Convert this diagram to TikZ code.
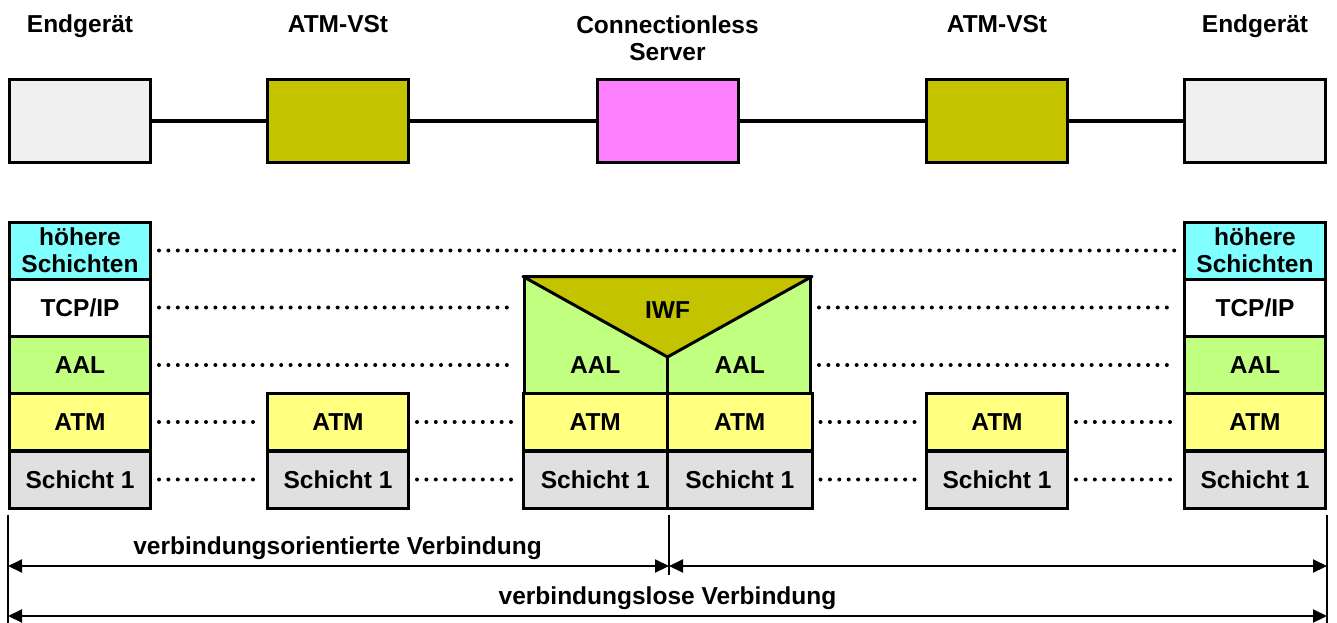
\documentclass[tikz,border=0pt]{standalone}
\usepackage{fontspec}
\setmainfont{Liberation Sans}
\usetikzlibrary{arrows.meta}

\definecolor{termcolor}{RGB}{240,240,240}
\definecolor{switchcolor}{RGB}{195,195,0}
\definecolor{servercolor}{RGB}{255,128,255}
\definecolor{highcolor}{RGB}{128,255,255}
\definecolor{aalcolor}{RGB}{192,255,128}
\definecolor{atmcolor}{RGB}{255,255,128}
\definecolor{phycolor}{RGB}{224,224,224}

\tikzset{
  unit/.style={draw=black, line width=3pt, minimum width=141pt, minimum height=83pt, inner sep=0pt},
  layer/.style={draw=black, line width=3pt, minimum width=141pt, minimum height=57pt, inner sep=0pt, align=center},
  peer/.style={line width=4pt, line cap=round, dash pattern=on 0pt off 9.4pt, shorten <=7pt, shorten >=7pt},
  span/.style={line width=2pt, {Triangle[length=14pt,width=13pt]}-{Triangle[length=14pt,width=13pt]}},
}

\begin{document}
\begin{tikzpicture}[x=1pt, y=-1pt, font=\fontsize{24.5}{27}\selectfont\bfseries]
    \useasboundingbox (0,0) rectangle (1337,623);
    % Devices
    \node[anchor=base] (tDevL) at (80,33) {Endgerät};
    \node[anchor=base] (tSwL) at (338,33) {ATM-VSt};
    \node[align=center] (tCls) at (667.5,38) {Connectionless\\Server};
    \node[anchor=base] (tSwR) at (997,33) {ATM-VSt};
    \node[anchor=base] (tDevR) at (1255,33) {Endgerät};
    \node[unit, fill=termcolor] (devL) at (80,121) {};
    \node[unit, fill=switchcolor] (swL) at (338,121) {};
    \node[unit, fill=servercolor] (cls) at (667.5,121) {};
    \node[unit, fill=switchcolor] (swR) at (997,121) {};
    \node[unit, fill=termcolor] (devR) at (1255,121) {};
    \foreach \a/\b in {devL/swL, swL/cls, cls/swR, swR/devR}
      \draw[line width=3pt] (\a) -- (\b);
    % Left terminal stack
    \node[layer, fill=highcolor] (hoeL) at (80,250.5) {höhere\\Schichten};
    \node[layer, fill=white] (tcpL) at (80,307.5) {TCP/IP};
    \node[layer, fill=aalcolor] (aalL) at (80,365) {AAL};
    \node[layer, fill=atmcolor] (atmL) at (80,422) {ATM};
    \node[layer, fill=phycolor] (phyL) at (80,479.5) {Schicht 1};
    % Switch stacks
    \node[layer, fill=atmcolor] (atmS1) at (338,422) {ATM};
    \node[layer, fill=phycolor] (phyS1) at (338,479.5) {Schicht 1};
    \node[layer, fill=atmcolor] (atmS2) at (997,422) {ATM};
    \node[layer, fill=phycolor] (phyS2) at (997,479.5) {Schicht 1};
    % Server stack with IWF
    \node[draw=black, line width=3pt, fill=aalcolor, minimum width=286pt, minimum height=115pt, inner sep=0pt] (iwf) at (667.5,335.5) {};
    \coordinate (apex) at (667.5,357);
    \filldraw[fill=switchcolor, line width=3pt, line join=round] (iwf.north west) -- (apex) -- (iwf.north east) -- cycle;
    \draw[line width=3pt] (apex) -- (iwf.south);
    \node (iwfText) at (667.5,310) {IWF};
    \node (aalC1) at (595.25,365) {AAL};
    \node (aalC2) at (739.75,365) {AAL};
    \node[layer, fill=atmcolor, minimum width=144.5pt] (atmC1) at (595.25,422) {ATM};
    \node[layer, fill=atmcolor, minimum width=144.5pt] (atmC2) at (739.75,422) {ATM};
    \node[layer, fill=phycolor, minimum width=144.5pt] (phyC1) at (595.25,479.5) {Schicht 1};
    \node[layer, fill=phycolor, minimum width=144.5pt] (phyC2) at (739.75,479.5) {Schicht 1};
    % Right terminal stack
    \node[layer, fill=highcolor] (hoeR) at (1255,250.5) {höhere\\Schichten};
    \node[layer, fill=white] (tcpR) at (1255,307.5) {TCP/IP};
    \node[layer, fill=aalcolor] (aalR) at (1255,365) {AAL};
    \node[layer, fill=atmcolor] (atmR) at (1255,422) {ATM};
    \node[layer, fill=phycolor] (phyR) at (1255,479.5) {Schicht 1};
    % Peer relations
    \draw[peer] (hoeL) -- (hoeR);
    \draw[peer] (tcpL) -- (tcpL -| iwf.west);
    \draw[peer] (tcpR -| iwf.east) -- (tcpR);
    \draw[peer] (aalL) -- (aalL -| iwf.west);
    \draw[peer] (aalR -| iwf.east) -- (aalR);
    \foreach \a/\b in {atmL/atmS1, atmS1/atmC1, atmC2/atmS2, atmS2/atmR,
                       phyL/phyS1, phyS1/phyC1, phyC2/phyS2, phyS2/phyR}
      \draw[peer] (\a) -- (\b);
    % Connection spans
    \draw[line width=1.5pt] ([yshift=-5pt]phyL.south west) -- ++(0,110);
    \draw[line width=1.5pt] ([yshift=-5pt]phyC1.south east) -- ++(0,60);
    \draw[line width=1.5pt] ([yshift=-5pt]phyR.south east) -- ++(0,110);
    \coordinate (coL) at (phyL.south west |- 0,566);
    \coordinate (coM) at (phyC1.south east |- 0,566);
    \coordinate (coR) at (phyR.south east |- 0,566);
    \coordinate (clL) at (phyL.south west |- 0,616);
    \coordinate (clR) at (phyR.south east |- 0,616);
    \draw[span] (coL) -- (coM);
    \draw[span] (coM) -- (coR);
    \draw[span] (clL) -- (clR);
    \node[anchor=base] (coText) at (337.5,554) {verbindungsorientierte Verbindung};
    \node[anchor=base] (clText) at (667.5,604) {verbindungslose Verbindung};
  \end{tikzpicture}
\end{document}
